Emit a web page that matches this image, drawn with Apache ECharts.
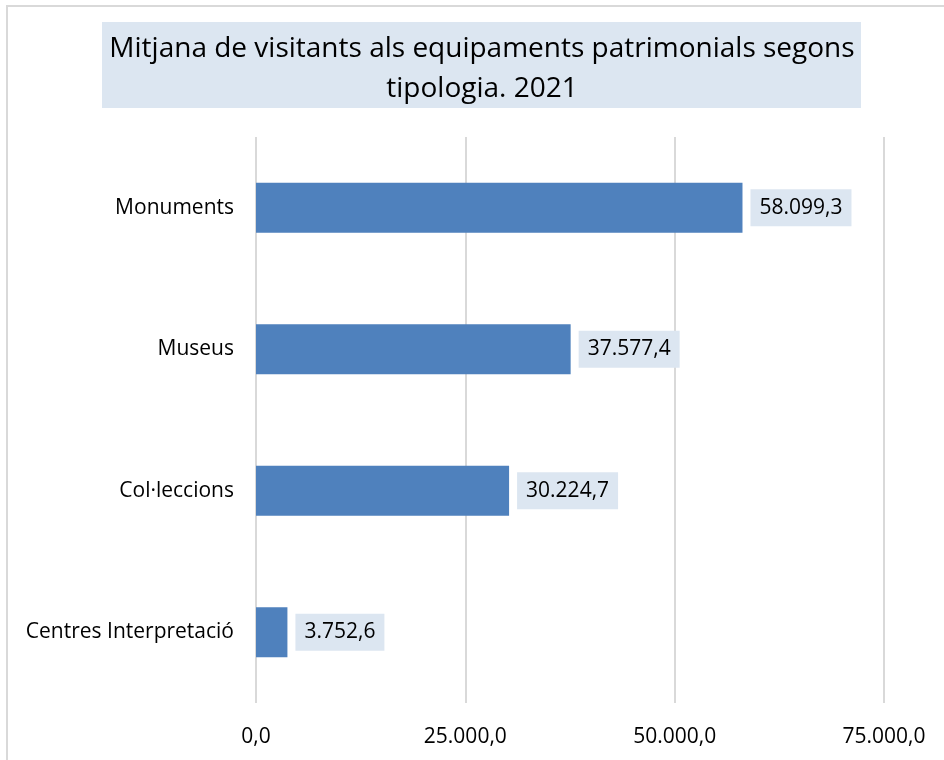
<!DOCTYPE html>
<html>
<head>
<meta charset="utf-8">
<script src="https://cdn.jsdelivr.net/npm/echarts@6/dist/echarts.min.js"></script>
<style>
  html, body { margin: 0; padding: 0; background: #fff; }
  #chart { width: 944px; height: 760px; }
</style>
</head>
<body>
<div id="chart"></div>
<script>
var categories = ["Monuments", "Museus", "Col·leccions", "Centres Interpretació"];
var values = [58099.3, 37577.4, 30224.7, 3752.6];
var titleLines = ["Mitjana de visitants als equipaments patrimonials segons", "tipologia. 2021"];

// format 1234.5 -> "1.234,5"
function fmt(v) {
  var parts = Number(v).toFixed(1).split(".");
  parts[0] = parts[0].replace(/\B(?=(\d{3})+(?!\d))/g, ".");
  return parts[0] + "," + parts[1];
}

var font = "Open Sans";
var chart = echarts.init(document.getElementById("chart"));
chart.setOption({
  animation: false,
  backgroundColor: "#fff",
  textStyle: { fontFamily: font },
  graphic: [
    {
      type: "rect",
      shape: { x: 7, y: 6, width: 960, height: 780 },
      style: { fill: "none", stroke: "#d9d9d9", lineWidth: 2 },
      silent: true
    },
    {
      type: "rect",
      shape: { x: 102, y: 22, width: 759, height: 86 },
      style: { fill: "#dce6f1" },
      silent: true
    },
    {
      type: "text",
      x: 482, y: 69,
      style: {
        text: titleLines.join("\n"),
        fontFamily: font, fontSize: 28, fill: "#000",
        align: "center", verticalAlign: "middle", lineHeight: 40
      },
      silent: true
    }
  ],
  grid: { left: 256, right: 60, top: 137, bottom: 57 },
  xAxis: {
    type: "value",
    min: 0, max: 75000, interval: 25000,
    axisLine: { show: false },
    axisTick: { show: false },
    axisLabel: { formatter: fmt, fontSize: 21, color: "#000", margin: 24, fontFamily: font },
    splitLine: { lineStyle: { color: "#d9d9d9", width: 2 } }
  },
  yAxis: {
    type: "category",
    data: categories,
    inverse: true,
    axisLine: { show: false },
    axisTick: { show: false },
    axisLabel: { fontSize: 21, color: "#000", margin: 22, fontFamily: font }
  },
  series: [{
    type: "bar",
    data: values,
    barWidth: 50,
    itemStyle: { color: "#4f81bd" },
    label: {
      show: true,
      position: "right",
      distance: 8,
      formatter: function (p) { return fmt(p.value); },
      backgroundColor: "#dce6f1",
      padding: [7, 9, 7, 9],
      fontSize: 21,
      lineHeight: 23,
      color: "#000",
      fontFamily: font
    }
  }]
});
</script>
</body>
</html>
